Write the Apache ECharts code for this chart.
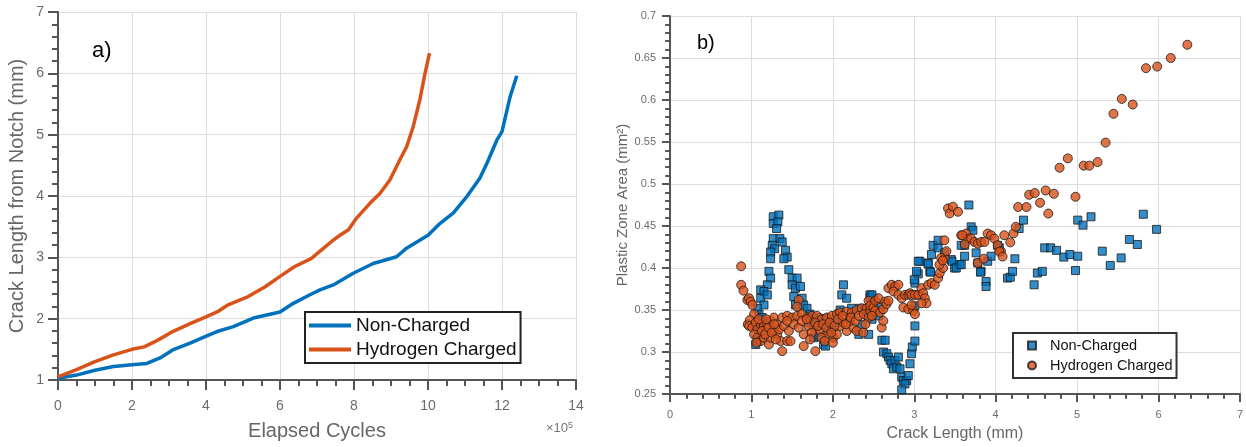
<!DOCTYPE html>
<html>
<head>
<meta charset="utf-8">
<script src="https://cdn.jsdelivr.net/npm/echarts@6/dist/echarts.min.js"></script>
<style>html,body{margin:0;padding:0;background:#fff}#c{width:1246px;height:447px}</style>
</head>
<body>
<div id="c"></div>
<script>
// Panel a: elapsed cycles (x10^5) vs crack length from notch (mm)
const nonChargedCurve = [
 [0,1.03],[0.5,1.08],[1.0,1.16],[1.5,1.22],[2.0,1.25],[2.4,1.27],[2.76,1.36],[3.1,1.49],[3.57,1.60],[3.99,1.71],
 [4.3,1.79],[4.74,1.87],[5.28,2.01],[5.64,2.06],[6.0,2.11],[6.36,2.25],[6.81,2.39],[7.08,2.47],[7.44,2.55],[7.98,2.74],
 [8.52,2.90],[9.15,3.01],[9.42,3.15],[10.0,3.36],[10.32,3.55],[10.68,3.72],[11.05,3.99],[11.4,4.29],[11.59,4.53],[11.86,4.91],
 [12.0,5.05],[12.22,5.62],[12.4,5.96]
];
const hydrogenCurve = [
 [0,1.05],[0.5,1.17],[1.0,1.30],[1.5,1.41],[2.0,1.50],[2.33,1.54],[2.7,1.65],[3.1,1.79],[3.57,1.92],[4.0,2.03],
 [4.3,2.11],[4.58,2.22],[5.14,2.36],[5.6,2.52],[6.05,2.71],[6.4,2.85],[6.84,2.98],[7.44,3.28],[7.62,3.36],[7.85,3.45],
 [8.07,3.64],[8.43,3.88],[8.7,4.04],[8.97,4.26],[9.24,4.59],[9.42,4.80],[9.6,5.13],[9.78,5.57],[9.92,6.0],[10.04,6.33]
];
// Panel b: crack length (mm) vs plastic zone area (mm^2)
const nonChargedPoints = [
 [1.268,0.461],[1.337,0.463],[1.268,0.453],[1.325,0.455],[1.309,0.447],[1.268,0.435],[1.35,0.435],[1.256,0.427],[1.285,0.423],[1.378,0.431],
 [1.236,0.419],[1.419,0.421],[1.439,0.413],[1.236,0.411],[1.398,0.411],[1.215,0.396],[1.459,0.398],[1.236,0.388],[1.50,0.388],[1.561,0.388],
 [1.195,0.380],[1.114,0.374],[1.154,0.372],[1.50,0.380],[1.541,0.376],[1.602,0.378],[1.114,0.364],[1.154,0.356],[1.073,0.352],[1.195,0.368],
 [1.622,0.364],[1.642,0.356],[1.683,0.352],[1.52,0.366],[1.541,0.356],[1.093,0.345],[1.053,0.309],[1.073,0.313],[1.114,0.317],[1.764,0.317],
 [1.886,0.309],[1.805,0.341],[1.846,0.333],[2.13,0.380],[2.11,0.368],[2.17,0.364],[2.23,0.352],[2.33,0.352],[2.455,0.368],[2.496,0.364],
 [2.435,0.348],[2.09,0.350],[2.07,0.345],[1.91,0.340],[1.95,0.325],[1.91,0.307],[1.83,0.319],[2.39,0.349],[2.36,0.333],[2.32,0.321],
 [2.44,0.321],[1.72,0.345],[1.76,0.339],[1.70,0.335],[1.99,0.329],[2.02,0.335],[2.20,0.341],[1.13,0.341],[1.17,0.335],[1.09,0.327],
 [2.602,0.314],[2.642,0.314],[2.622,0.300],[2.663,0.298],[2.683,0.294],[2.703,0.290],[2.724,0.286],[2.764,0.290],[2.805,0.294],[2.744,0.280],
 [2.785,0.282],[2.825,0.280],[2.846,0.270],[2.866,0.266],[2.907,0.266],[2.886,0.262],[2.927,0.272],[2.846,0.255],[2.947,0.286],[2.967,0.298],
 [2.976,0.306],[3.008,0.313],[3.008,0.331],[2.439,0.343],[2.48,0.339],[2.561,0.343],[2.581,0.353],[2.459,0.365],[2.48,0.368],
 [3.008,0.355],[3.049,0.368],[3.008,0.382],[3.049,0.393],[3.069,0.408],[3.171,0.406],[3.191,0.396],[3.211,0.416],[3.232,0.427],[3.293,0.424],
 [3.293,0.433],[3.374,0.418],[3.455,0.410],[3.496,0.400],[3.557,0.404],[3.618,0.414],[3.671,0.475],[3.699,0.449],[3.72,0.445],[3.618,0.427],
 [3.577,0.427],[3.76,0.418],[3.78,0.406],[3.821,0.396],[3.882,0.384],[3.882,0.378],[3.902,0.408],[3.943,0.414],[4.024,0.427],[4.045,0.424],
 [3.463,0.408],[3.516,0.400],[3.577,0.404],[3.813,0.395],[3.049,0.408],[3.028,0.396],[3.0,0.386],[3.17,0.405],[3.20,0.395],
 [4.146,0.388],[4.179,0.389],[4.207,0.396],[4.236,0.411],[4.288,0.447],[4.341,0.457],[4.472,0.380],[4.512,0.394],[4.573,0.396],[4.602,0.424],
 [4.675,0.424],[4.748,0.421],[4.837,0.413],[4.911,0.416],[4.98,0.397],[5.008,0.457],[5.008,0.414],[5.073,0.451],[5.171,0.461],[5.309,0.420],
 [5.407,0.403],[5.541,0.412],[5.643,0.434],[5.74,0.428],[5.813,0.464],[5.976,0.446]
];
const hydrogenPoints = [
 [0.874,0.402],[0.874,0.380],[0.902,0.373],[0.95,0.362],[0.97,0.364],[0.99,0.360],[1.012,0.356],[1.033,0.345],[0.955,0.333],[0.98,0.338],
 [0.972,0.331],[1.012,0.329],[1.053,0.335],[1.073,0.327],[1.114,0.333],[1.154,0.331],[1.195,0.333],[1.236,0.337],[1.276,0.341],[1.317,0.333],
 [1.378,0.341],[1.439,0.343],[1.50,0.341],[1.561,0.343],[1.622,0.345],[1.683,0.341],[1.744,0.343],[1.805,0.343],[1.866,0.339],[1.927,0.341],
 [1.988,0.343],[2.049,0.345],[2.089,0.347],[2.171,0.348],[2.232,0.347],[2.293,0.350],[2.354,0.352],[2.415,0.352],[2.476,0.356],[2.516,0.350],
 [1.033,0.321],[1.073,0.317],[1.114,0.313],[1.154,0.317],[1.215,0.309],[1.236,0.317],[1.276,0.325],[1.317,0.321],[1.358,0.313],[1.378,0.301],
 [1.439,0.313],[1.48,0.313],[1.642,0.321],[1.642,0.307],[1.785,0.301],[1.581,0.362],[1.561,0.354],[1.764,0.329],[1.846,0.325],[1.927,0.321],
 [2.008,0.317],[2.049,0.321],[2.089,0.331],[2.171,0.325],[2.252,0.329],[2.293,0.325],[2.374,0.323],[2.211,0.337],[2.13,0.335],
 [1.09,0.339],[1.13,0.325],[1.17,0.321],[1.21,0.329],[1.25,0.323],[1.30,0.315],[1.34,0.327],[1.40,0.331],[1.46,0.325],[1.52,0.333],
 [1.58,0.329],[1.62,0.337],[1.70,0.331],[1.74,0.323],[1.78,0.335],[1.82,0.331],[1.88,0.333],[1.92,0.329],[1.96,0.335],[2.02,0.331],
 [2.06,0.339],[2.12,0.343],[2.16,0.333],[2.22,0.341],[2.28,0.337],[2.32,0.343],[2.38,0.345],[2.44,0.341],[2.46,0.349],[2.40,0.333],
 [1.06,0.311],[1.18,0.339],[1.28,0.333],[1.44,0.337],[1.68,0.339],[1.86,0.317],[1.90,0.313],[1.98,0.323],[2.00,0.311],[1.72,0.315],
 [2.439,0.361],[2.46,0.355],[2.50,0.353],[2.52,0.361],[2.561,0.364],[2.52,0.349],[2.58,0.347],[2.62,0.351],[2.642,0.360],[2.66,0.357],
 [2.683,0.361],[2.60,0.329],[2.48,0.343],[2.62,0.337],[2.683,0.376],[2.724,0.380],[2.764,0.378],[2.805,0.380],[2.745,0.372],[2.805,0.368],
 [2.846,0.364],[2.886,0.368],[2.927,0.368],[2.947,0.370],[2.967,0.368],[3.008,0.368],[3.049,0.368],[3.089,0.376],[3.11,0.370],[3.13,0.364],
 [3.15,0.358],[3.089,0.358],[2.866,0.353],[2.927,0.351],[2.987,0.349],[3.008,0.345],[2.967,0.356],[3.171,0.380],[3.211,0.382],[3.252,0.380],
 [3.293,0.388],[3.313,0.394],[3.354,0.400],[3.374,0.412],[3.395,0.420],[3.415,0.471],[3.435,0.465],[3.475,0.473],[3.537,0.467],[3.577,0.439],
 [3.638,0.441],[3.659,0.435],[3.699,0.435],[3.74,0.431],[3.78,0.429],[3.821,0.431],[3.862,0.431],[3.902,0.441],[3.943,0.439],[3.984,0.435],
 [4.024,0.427],[4.065,0.420],[4.106,0.439],[3.78,0.406],[3.854,0.411],[4.045,0.4195],[4.085,0.4136],[4.179,0.4305],[4.219,0.4412],[4.248,0.449],
 [4.276,0.4726],[4.378,0.4726],[4.411,0.4872],[4.48,0.4892],[4.545,0.4777],[4.614,0.4923],[4.646,0.4648],[4.715,0.4884],[4.785,0.5194],[4.886,0.5305],
 [4.98,0.4848],[5.081,0.5218],[5.15,0.5218],[5.252,0.5261],[5.35,0.5493],[5.447,0.5836],[5.549,0.6013],[5.683,0.5946],[5.846,0.6379],[5.984,0.6398],
 [6.15,0.65],[6.354,0.6658],[3.33,0.412],[3.37,0.433],[3.31,0.404],[3.35,0.409],[3.59,0.439],[3.62,0.428]
];
const cycleTicks = {min:0, max:14, interval:2};
const crackTicks = {min:1, max:7, interval:1};
const lengthTicks = {min:0, max:7, interval:1};
const areaTicks = {min:0.25, max:0.7, interval:0.05};

const BLUE = '#0072BD', ORANGE = '#D95319';
const FONT = 'Liberation Sans, Arial, sans-serif';
const axisLine = {show:true, onZero:false, lineStyle:{color:'#555', width:2}};
const split = {show:true, lineStyle:{color:'#dcdcdc', width:1}};
function axisCommon(t, gi, labelSize, margin, splitN, tickLen){
  return {type:'value', gridIndex:gi, min:t.min, max:t.max, interval:t.interval,
    axisLine:axisLine, splitLine:split,
    axisTick:{show:true, length:tickLen, lineStyle:{color:'#555', width:2}},
    minorTick:{show:true, splitNumber:splitN, length:tickLen*0.6, lineStyle:{color:'#555', width:2}},
    axisLabel:{color:'#6a6a6a', fontSize:labelSize, fontFamily:FONT, margin:margin,
      formatter: v => String(+v.toFixed(2))},
    nameTextStyle:{color:'#666', fontFamily:FONT}
  };
}
const chart = echarts.init(document.getElementById('c'), null, {renderer:'canvas'});
const xa = axisCommon(cycleTicks,0,14,19,4,10);
Object.assign(xa,{name:'Elapsed Cycles', nameLocation:'middle', nameGap:41});
xa.nameTextStyle.fontSize = 20;
const ya = axisCommon(crackTicks,0,14,14,5,10);
Object.assign(ya,{name:'Crack Length from Notch (mm)', nameLocation:'middle', nameGap:31});
ya.nameTextStyle.fontSize = 20;
const xb = axisCommon(lengthTicks,1,11,15,5,8);
Object.assign(xb,{name:'Crack Length (mm)', nameLocation:'middle', nameGap:32});
xb.nameTextStyle.fontSize = 16;
const yb = axisCommon(areaTicks,1,11,14,5,8);
Object.assign(yb,{name:'Plastic Zone Area (mm²)', nameLocation:'middle', nameGap:40});
yb.nameTextStyle.fontSize = 15;

const stripName = n => n.replace(/ \([ab]\)$/,'');
chart.setOption({
  animation:false,
  backgroundColor:'#fff',
  grid:[
    {left:58, top:12, width:518, height:368, containLabel:false},
    {left:670, top:16, width:574, height:381, containLabel:false}
  ],
  xAxis:[xa, xb],
  yAxis:[ya, yb],
  legend:[
    {data:['Non-Charged (a)','Hydrogen Charged (a)'], formatter:stripName, orient:'vertical',
     left:305, top:312, padding:[4,4,4,4], itemGap:5, itemWidth:42, itemHeight:4, icon:'rect',
     borderColor:'#222', borderWidth:2, backgroundColor:'#fff',
     textStyle:{fontSize:19, color:'#111', fontFamily:FONT}},
    {data:[{name:'Non-Charged (b)', icon:'rect'},{name:'Hydrogen Charged (b)', icon:'circle'}], formatter:stripName, orient:'vertical',
     left:1013, top:333, padding:[5,4,5,14], itemGap:5, itemWidth:8, itemHeight:8,
     borderColor:'#333', borderWidth:2, backgroundColor:'#fff',
     textStyle:{fontSize:14.5, color:'#111', fontFamily:FONT, padding:[0,0,0,9]}}
  ],
  graphic:[
    {type:'text', left:92, top:40, style:{text:'a)', font:'22px '+FONT, fill:'#000'}},
    {type:'text', left:697, top:33, style:{text:'b)', font:'20px '+FONT, fill:'#000'}},
    {type:'text', left:546, top:421, style:{text:'×10{s|5}', font:'13px '+FONT, fill:'#777',
      rich:{s:{fontSize:9, verticalAlign:'top', fill:'#777', padding:[0,0,6,0]}}}}
  ],
  series:[
    {name:'Non-Charged (a)', type:'line', xAxisIndex:0, yAxisIndex:0, data:nonChargedCurve, showSymbol:false,
     lineStyle:{color:BLUE, width:3.5}, itemStyle:{color:BLUE}},
    {name:'Hydrogen Charged (a)', type:'line', xAxisIndex:0, yAxisIndex:0, data:hydrogenCurve, showSymbol:false,
     lineStyle:{color:ORANGE, width:3.5}, itemStyle:{color:ORANGE}},
    {name:'Non-Charged (b)', type:'scatter', xAxisIndex:1, yAxisIndex:1, data:nonChargedPoints, symbol:'rect', symbolSize:8,
     itemStyle:{color:BLUE, borderColor:'#1a1a1a', borderWidth:1}},
    {name:'Hydrogen Charged (b)', type:'scatter', xAxisIndex:1, yAxisIndex:1, data:hydrogenPoints, symbol:'circle', symbolSize:9,
     itemStyle:{color:ORANGE, borderColor:'#1a1a1a', borderWidth:1}}
  ]
});
</script>
</body>
</html>
